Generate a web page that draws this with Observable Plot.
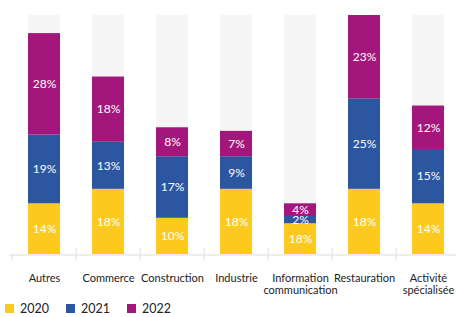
<!DOCTYPE html>
<html>
<head>
<meta charset="utf-8">
<script src="https://cdn.jsdelivr.net/npm/d3@7"></script>
<script src="https://cdn.jsdelivr.net/npm/@observablehq/plot@0.6"></script>
<style>
  html, body { margin: 0; padding: 0; background: white; }
  body { width: 456px; height: 317px; overflow: hidden; font-family: Lato, "Noto Sans", sans-serif; }
  #legend { display: flex; height: 19px; align-items: center; padding-left: 5px; padding-top: 1px; }
  .item { display: flex; align-items: center; width: 61px; font-size: 12.5px; color: #222; }
  .sw { width: 9px; height: 9px; margin-right: 6px; }
</style>
</head>
<body>
<div id="chart"></div>
<div id="legend"></div>
<script>
const categories = ["Autres", "Commerce", "Construction", "Industrie", "Information\ncommunication", "Restauration", "Activité\nspécialisée"];
const years = ["2020", "2021", "2022"];
const colors = ["#FCC91F", "#2C56A0", "#A3177D"];
// bar heights as drawn (percent)
const v2020 = [14, 18, 10, 18, 8.5, 18, 14];
const v2021 = [19, 13, 17, 9, 2, 25, 15];
const v2022 = [28, 18, 8, 7, 3.5, 23, 12];
// printed labels (percent)
const p2020 = [14, 18, 10, 18, 18, 18, 14];
const p2021 = [19, 13, 17, 9, 2, 25, 15];
const p2022 = [28, 18, 8, 7, 4, 23, 12];
const full = 66; // grey background bar height

const series = [v2020, v2021, v2022];
const labels = [p2020, p2021, p2022];
const rows = [];
years.forEach((yr, j) => categories.forEach((c, i) => rows.push({category: c, year: yr, value: series[j][i], label: labels[j][i]})));

const x0 = 9, x1 = 462;
const step = (x1 - x0) / categories.length;

const chart = Plot.plot({
  width: 456,
  height: 298,
  marginLeft: 9,
  marginRight: 0,
  marginTop: 0,
  marginBottom: 0,
  x: {domain: categories, range: [x0, x1], paddingInner: 0.5, paddingOuter: 0.25, axis: null},
  y: {domain: [0, full], range: [254, 15], axis: null},
  color: {domain: years, range: colors},
  style: {fontFamily: "Lato, 'Noto Sans', sans-serif", background: "white", overflow: "visible"},
  marks: [
    Plot.barY(categories, {x: d => d, y: () => full, fill: "#F5F5F5"}),
    Plot.ruleY([0], {stroke: "#DCDCDC", strokeWidth: 1, dy: 0.5}),
    Plot.ruleX(categories.slice(1), {x: d => d, dx: -step / 2, y1: 1.7, y2: -1.9, stroke: "#DCDCDC"}),
    Plot.ruleX(categories.slice(0, 1), {x: d => d, dx: -step / 2, y1: 0, y2: -1.9, stroke: "#DCDCDC"}),
    Plot.barY(rows, {x: "category", y: "value", fill: "year"}),
    Plot.text(rows, Plot.stackY({x: "category", y: "value", z: "year", text: d => d.label + "%", fill: "white", fontSize: 12})),
    Plot.text(categories, {x: d => d, y: 0, dy: 19, lineAnchor: "top", fontSize: 11, fill: "#222", lineHeight: 1.1})
  ]
});
document.getElementById("chart").appendChild(chart);

const legend = document.getElementById("legend");
years.forEach((yr, j) => {
  const it = document.createElement("div");
  it.className = "item";
  const sw = document.createElement("div");
  sw.className = "sw";
  sw.style.background = colors[j];
  const t = document.createElement("span");
  t.textContent = yr;
  it.appendChild(sw);
  it.appendChild(t);
  legend.appendChild(it);
});
</script>
</body>
</html>
